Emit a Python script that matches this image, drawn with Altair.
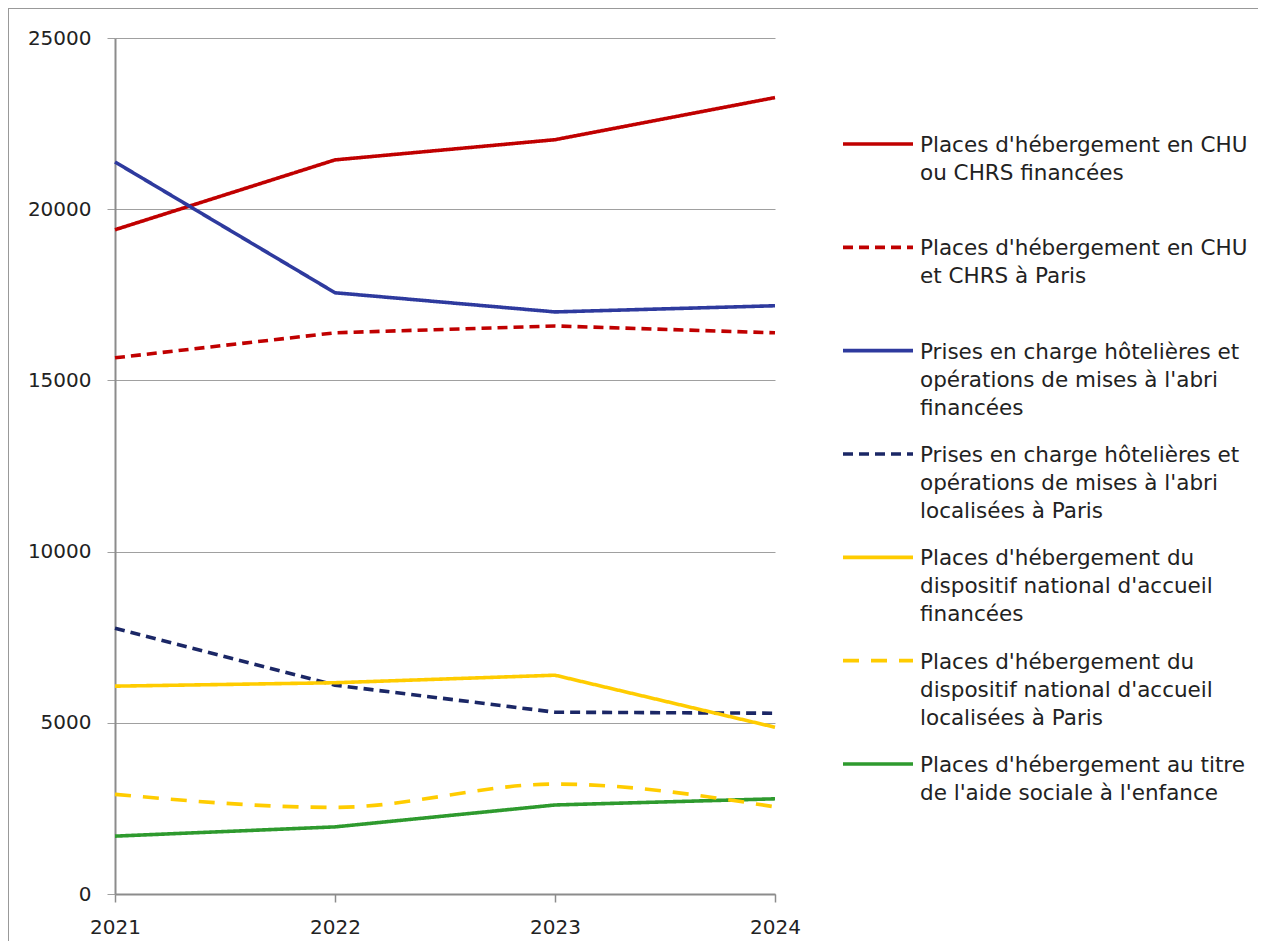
import altair as alt
import pandas as pd

years = ["2021", "2022", "2023", "2024"]

series = [
    "Places d'hébergement en CHU ou CHRS financées",
    "Places d'hébergement en CHU et CHRS à Paris",
    "Prises en charge hôtelières et opérations de mises à l'abri financées",
    "Prises en charge hôtelières et opérations de mises à l'abri localisées à Paris",
    "Places d'hébergement du dispositif national d'accueil financées",
    "Places d'hébergement du dispositif national d'accueil localisées à Paris",
    "Places d'hébergement au titre de l'aide sociale à l'enfance",
]

legend_lines = [
    "Places d'hébergement en CHU\nou CHRS financées",
    "Places d'hébergement en CHU\net CHRS à Paris",
    "Prises en charge hôtelières et\nopérations de mises à l'abri\nfinancées",
    "Prises en charge hôtelières et\nopérations de mises à l'abri\nlocalisées à Paris",
    "Places d'hébergement du\ndispositif national d'accueil\nfinancées",
    "Places d'hébergement du\ndispositif national d'accueil\nlocalisées à Paris",
    "Places d'hébergement au titre\nde l'aide sociale à l'enfance",
]

chu_chrs_financees = [19400, 21440, 22030, 23260]
chu_chrs_paris = [15660, 16390, 16590, 16390]
hotel_financees = [21380, 17560, 17000, 17180]
hotel_paris = [7760, 6100, 5310, 5280]
dna_financees = [6070, 6170, 6390, 4870]
dna_paris = [2910, 2530, 3210, 2545]
ase = [1690, 1960, 2600, 2780]

values = [chu_chrs_financees, chu_chrs_paris, hotel_financees, hotel_paris,
          dna_financees, dna_paris, ase]

colors = ["#C00000", "#C00000", "#2E3A9E", "#1B2766", "#FFCC00", "#FFCC00", "#2E9A2E"]
dashes = [[1, 0], [10, 6], [1, 0], [10, 6], [1, 0], [16, 12], [1, 0]]

rows = []
for s, vals in zip(series, values):
    for y, v in zip(years, vals):
        rows.append({"serie": s, "annee": y, "valeur": v})
df = pd.DataFrame(rows)

leg = pd.DataFrame({"serie": series, "label": legend_lines, "row": list(range(len(series)))})

FONT = "DejaVu Sans"
W, H = 660, 856

color_scale = alt.Scale(domain=series, range=colors)
dash_scale = alt.Scale(domain=series, range=dashes)

x_enc = alt.X("annee:O", scale=alt.Scale(type="point", padding=0),
              axis=alt.Axis(title=None, labelAngle=0, grid=False, domainColor="#8c8c8c",
                            domainWidth=2, tickColor="#8c8c8c", tickWidth=1.5, tickSize=8,
                            labelPadding=15, labelFontSize=20, labelFont=FONT,
                            labelColor="#222222"))
y_axis = alt.Axis(title=None, values=[0, 5000, 10000, 15000, 20000, 25000],
                  format="d", grid=True, gridColor="#a0a0a0", gridWidth=1,
                  domainColor="#8c8c8c", domainWidth=2, tickColor="#a0a0a0",
                  tickWidth=1, tickSize=8, labelPadding=16, labelFontSize=20,
                  labelFont=FONT, labelColor="#222222")
y_scale = alt.Scale(domain=[0, 25000], nice=False)

base = alt.Chart(df)

lines_linear = base.transform_filter(
    alt.datum.serie != series[5]
).mark_line(strokeWidth=3.6, strokeCap="butt", strokeJoin="round").encode(
    x=x_enc, y=alt.Y("valeur:Q", scale=y_scale, axis=y_axis),
    color=alt.Color("serie:N", scale=color_scale, legend=None),
    strokeDash=alt.StrokeDash("serie:N", scale=dash_scale, legend=None),
)

lines_smooth = base.transform_filter(
    alt.datum.serie == series[5]
).mark_line(strokeWidth=3.6, strokeCap="butt", interpolate="monotone").encode(
    x=x_enc, y=alt.Y("valeur:Q", scale=y_scale, axis=y_axis),
    color=alt.Color("serie:N", scale=color_scale, legend=None),
    strokeDash=alt.StrokeDash("serie:N", scale=dash_scale, legend=None),
)

lines = alt.layer(lines_linear, lines_smooth)

leg_y = alt.Y("row:Q", scale=alt.Scale(domain=[0, 6], range=[106, 726]), axis=None)

leg_rules = alt.Chart(leg).mark_rule(strokeWidth=3.6, strokeCap="butt").encode(
    x=alt.value(728), x2=alt.value(798), y=leg_y,
    color=alt.Color("serie:N", scale=color_scale, legend=None),
    strokeDash=alt.StrokeDash("serie:N", scale=dash_scale, legend=None),
)

leg_text = alt.Chart(leg).mark_text(
    align="left", baseline="alphabetic", dy=8, lineBreak="\n", lineHeight=28,
    font=FONT, fontSize=21.5, color="#222222"
).encode(x=alt.value(805), y=leg_y, text="label:N")

frame_df = pd.DataFrame({"k": [0]})
frame_top = alt.Chart(frame_df).mark_rule(stroke="#999999", strokeWidth=1).encode(
    x=alt.value(-107), x2=alt.value(1143), y=alt.value(-29.5))
frame_left = alt.Chart(frame_df).mark_rule(stroke="#999999", strokeWidth=1).encode(
    x=alt.value(-106.5), y=alt.value(-29.5), y2=alt.value(903))

chart = alt.layer(frame_top, frame_left, lines, leg_rules, leg_text).resolve_scale(
    y="independent"
).properties(
    width=W, height=H,
    autosize=alt.AutoSizeParams(type="none"),
    padding={"left": 107, "top": 30, "right": 1250 - 107 - W, "bottom": 933 - 30 - H},
).configure_view(stroke=None)

chart.save("out.html", embed_options={"renderer": "svg", "actions": False})
